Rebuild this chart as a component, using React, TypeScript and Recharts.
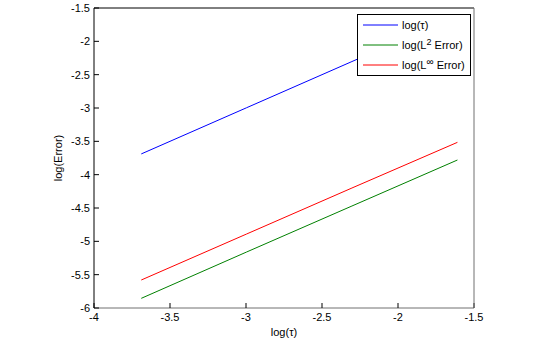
import { Legend, Line, LineChart, XAxis, YAxis } from "recharts";

// log(tau) for tau = 0.025, 0.05, 0.1, 0.2
const logTau = [-3.689, -2.996, -2.303, -1.609];
const logTauSeries = [-3.689, -2.996, -2.303, -1.609];
const logL2Error = [-5.855, -5.16, -4.47, -3.78];
const logLinfError = [-5.58, -4.89, -4.2, -3.515];

const xTicks = [-4, -3.5, -3, -2.5, -2, -1.5];
const yTicks = [-6, -5.5, -5, -4.5, -4, -3.5, -3, -2.5, -2, -1.5];

const rows = logTau.map((x, i) => ({
  x,
  tau: logTauSeries[i],
  l2: logL2Error[i],
  linf: logLinfError[i],
}));

const font = '"Liberation Sans", Arial, Helvetica, sans-serif';
const tickStyle = { fontSize: 11, fill: "#000", fontFamily: font };

const legendItems = [
  { key: "tau", color: "#0000ff", label: <>log(τ)</> },
  {
    key: "l2",
    color: "#008000",
    label: (
      <>
        log(L<span style={{ fontSize: 9, position: "relative", top: -4 }}>2</span> Error)
      </>
    ),
  },
  {
    key: "linf",
    color: "#ff0000",
    label: (
      <>
        log(L<span style={{ fontSize: 10, position: "relative", top: -4 }}>∞</span> Error)
      </>
    ),
  },
];

function LegendBox() {
  return (
    <div
      style={{
        border: "1px solid #000",
        background: "#fff",
        width: 112,
        height: 60,
        fontFamily: font,
        fontSize: 11,
        color: "#000",
      }}
    >
      {legendItems.map((item) => (
        <div key={item.key} style={{ height: 20, display: "flex", alignItems: "center" }}>
          <svg width={35} height={2} style={{ marginLeft: 5, marginRight: 4 }}>
            <line x1={0} y1={1} x2={35} y2={1} stroke={item.color} strokeWidth={1} />
          </svg>
          <span style={{ whiteSpace: "nowrap" }}>{item.label}</span>
        </div>
      ))}
    </div>
  );
}

export default function App() {
  return (
    <div style={{ position: "absolute", left: 0, top: 0, width: 545, height: 347, background: "#fff" }}>
      <LineChart width={545} height={347} data={rows} margin={{ top: 7, right: 70, bottom: 1, left: 34 }}>
        <XAxis
          dataKey="x"
          type="number"
          domain={[-4, -1.5]}
          ticks={xTicks}
          allowDataOverflow
          height={38}
          tickSize={-5}
          tickMargin={10}
          tick={tickStyle}
          axisLine={{ stroke: "#707070" }}
          tickLine={{ stroke: "#000" }}
          label={{ value: "log(τ)", position: "insideBottom", offset: 10, style: tickStyle }}
        />
        <XAxis
          xAxisId="top"
          orientation="top"
          type="number"
          domain={[-4, -1.5]}
          ticks={xTicks}
          allowDataOverflow
          height={1}
          tickSize={-5}
          tick={false}
          axisLine={{ stroke: "#000" }}
          tickLine={{ stroke: "#000" }}
        />
        <YAxis
          type="number"
          domain={[-6, -1.5]}
          ticks={yTicks}
          allowDataOverflow
          width={60}
          tickSize={-5}
          tickMargin={9}
          tick={tickStyle}
          axisLine={{ stroke: "#000" }}
          tickLine={{ stroke: "#000" }}
          label={{
            content: (props: any) => {
              const vb = props.viewBox;
              const cx = vb.x + 24;
              const cy = vb.y + vb.height / 2;
              return (
                <text
                  x={cx}
                  y={cy}
                  transform={`rotate(-90, ${cx}, ${cy})`}
                  textAnchor="middle"
                  dominantBaseline="central"
                  style={tickStyle}
                >
                  log(Error)
                </text>
              );
            },
          }}
        />
        <YAxis
          yAxisId="right"
          orientation="right"
          type="number"
          domain={[-6, -1.5]}
          ticks={yTicks}
          allowDataOverflow
          width={1}
          tickSize={-5}
          tick={false}
          axisLine={{ stroke: "#707070" }}
          tickLine={{ stroke: "#000" }}
        />
        <Line dataKey="tau" stroke="#0000ff" strokeWidth={1} dot={false} isAnimationActive={false} />
        <Line dataKey="l2" stroke="#008000" strokeWidth={1} dot={false} isAnimationActive={false} />
        <Line dataKey="linf" stroke="#ff0000" strokeWidth={1} dot={false} isAnimationActive={false} />
        <Legend
          layout="horizontal"
          verticalAlign="middle"
          align="center"
          content={() => <LegendBox />}
          wrapperStyle={{ left: 357, top: 14, width: 114, height: 62 }}
        />
      </LineChart>
    </div>
  );
}
